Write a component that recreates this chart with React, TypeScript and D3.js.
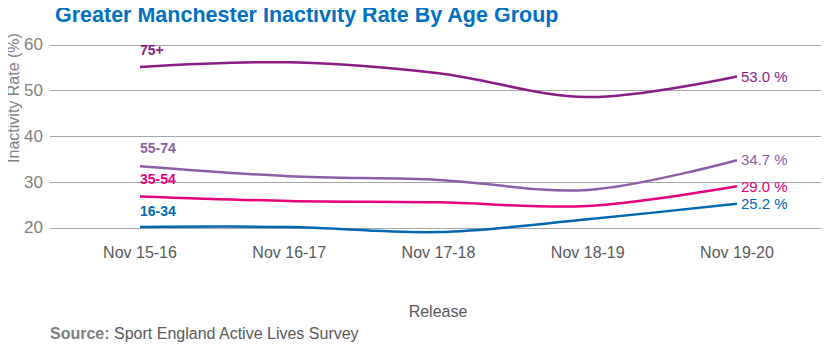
import { useRef, useEffect } from "react";
import * as d3 from "d3";

const releases = ["Nov 15-16", "Nov 16-17", "Nov 17-18", "Nov 18-19", "Nov 19-20"];
const age75plus = [55.1, 56.1, 53.7, 48.5, 53.0];
const age55to74 = [33.4, 31.2, 30.4, 28.2, 34.7];
const age35to54 = [26.8, 25.8, 25.5, 24.7, 29.0];
const age16to34 = [20.1, 20.1, 19.0, 21.8, 25.2];
const yTicks = [20, 30, 40, 50, 60];

const series = [
  { name: "75+", values: age75plus, color: "#8B1C87", labelDy: -12 },
  { name: "55-74", values: age55to74, color: "#8B5FA8", labelDy: -13 },
  { name: "35-54", values: age35to54, color: "#E5007D", labelDy: -12 },
  { name: "16-34", values: age16to34, color: "#0068B1", labelDy: -11 },
];

const FONT = "'Liberation Sans Narrow', 'Arial Narrow', 'Liberation Sans', Arial, sans-serif";

export default function App() {
  const svgRef = useRef<SVGSVGElement>(null);

  useEffect(() => {
    if (!svgRef.current) return;
    const svg = d3.select(svgRef.current);
    svg.selectAll("*").remove();

    const W = 829, H = 350;
    const gridLeft = 50, gridRight = 826;
    const x = d3.scalePoint<string>().domain(releases).range([140, 737]);
    const y = d3.scaleLinear().domain([20, 60]).range([227.5, 44.5]);

    svg.append("rect").attr("width", W).attr("height", H).attr("fill", "#fff");

    // Title
    svg.append("text")
      .attr("x", 55).attr("y", 22)
      .attr("font-family", "'Liberation Sans', Arial, sans-serif")
      .attr("font-weight", "bold").attr("font-size", 21.5)
      .attr("fill", "#0070C0")
      .text("Greater Manchester Inactivity Rate By Age Group");

    // Grid
    svg.append("g").selectAll("line").data(yTicks).enter().append("line")
      .attr("x1", gridLeft).attr("x2", gridRight)
      .attr("y1", d => Math.round(y(d)) + 0.5).attr("y2", d => Math.round(y(d)) + 0.5)
      .attr("stroke", "#A6A6A6").attr("stroke-width", 1);

    // Y tick labels
    svg.append("g").selectAll("text").data(yTicks).enter().append("text")
      .attr("x", 43).attr("y", d => y(d)).attr("dy", "0.35em")
      .attr("text-anchor", "end")
      .attr("font-family", FONT).attr("font-size", 17).attr("fill", "#7F7F7F")
      .text(d => d);

    // Y axis title
    svg.append("text")
      .attr("transform", "translate(19,98) rotate(-90)")
      .attr("text-anchor", "middle")
      .attr("font-family", FONT).attr("font-size", 16).attr("fill", "#7F7F7F")
      .text("Inactivity Rate (%)");

    // X tick labels
    svg.append("g").selectAll("text").data(releases).enter().append("text")
      .attr("x", d => x(d)!).attr("y", 258)
      .attr("text-anchor", "middle")
      .attr("font-family", FONT).attr("font-size", 16).attr("fill", "#595959")
      .text(d => d);

    svg.append("text")
      .attr("x", 438).attr("y", 317)
      .attr("text-anchor", "middle")
      .attr("font-family", FONT).attr("font-size", 16).attr("fill", "#595959")
      .text("Release");

    // Source
    const src = svg.append("text")
      .attr("x", 50).attr("y", 339)
      .attr("font-family", FONT).attr("font-size", 16).attr("fill", "#595959");
    src.append("tspan").attr("font-weight", "bold").attr("fill", "#7F7F7F").text("Source:");
    src.append("tspan").text(" Sport England Active Lives Survey");

    const line = d3.line<number>()
      .x((_, i) => x(releases[i])!)
      .y(d => y(d))
      .curve(d3.curveCatmullRom.alpha(0.5));

    series.forEach(s => {
      svg.append("path").datum(s.values)
        .attr("fill", "none").attr("stroke", s.color).attr("stroke-width", 2.5)
        .attr("d", line);

      svg.append("text")
        .attr("x", x(releases[0])!).attr("y", y(s.values[0]) + s.labelDy)
        .attr("font-family", "'Liberation Sans', Arial, sans-serif")
        .attr("font-weight", "bold").attr("font-size", 14).attr("fill", s.color)
        .text(s.name);

      const last = s.values[s.values.length - 1];
      svg.append("text")
        .attr("x", x(releases[releases.length - 1])! + 4).attr("y", y(last)).attr("dy", "0.35em")
        .attr("font-family", FONT).attr("font-size", 15).attr("fill", s.color)
        .text(`${last.toFixed(1)} %`);
    });
  }, []);

  return (
    <div style={{ margin: -8 }}>
      <svg ref={svgRef} width={829} height={350} style={{ display: "block" }} />
    </div>
  );
}
